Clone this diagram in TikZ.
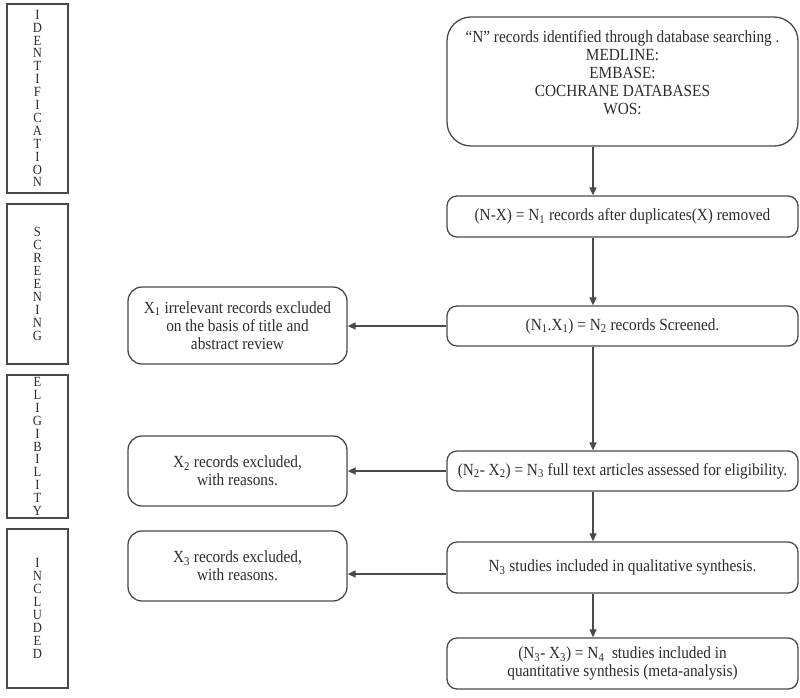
\documentclass[tikz,border=0pt]{standalone}
\usepackage{fontspec}
\setmainfont{Liberation Serif}[FakeStretch=0.9]
\usetikzlibrary{arrows.meta}

\definecolor{boxgray}{HTML}{4A4A4A}
\definecolor{txtgray}{HTML}{2B2B2B}

\tikzset{
  stage/.style={draw=boxgray, line width=1.8pt, minimum width=61pt, inner sep=0pt,
    align=center, text=txtgray, font=\fontsize{14}{12.9}\selectfont},
  flowbox/.style={draw=boxgray, line width=1.3pt, rounded corners=10pt, minimum width=351pt,
    align=center, text=txtgray, font=\fontsize{17}{18}\selectfont},
  exbox/.style={flowbox, rounded corners=14pt, minimum width=219pt},
  arr/.style={draw=boxgray, line width=1.3pt, -{Triangle[length=8pt,width=7pt]}}
}

\begin{document}
\begin{tikzpicture}[x=1pt,y=-1pt]
\useasboundingbox (0,0) rectangle (800,697);

% stage boxes
\node[stage, minimum height=189pt] (idn) at (37.5,98.5) {I\\D\\E\\N\\T\\I\\F\\I\\C\\A\\T\\I\\O\\N};
\node[stage, minimum height=160pt] (scr) at (37.5,284) {S\\C\\R\\E\\E\\N\\I\\N\\G};
\node[stage, minimum height=143pt] (elg) at (37.5,446.5) {E\\L\\I\\G\\I\\B\\I\\L\\I\\T\\Y};
\node[stage, minimum height=159pt] (inc) at (37.5,608.5) {I\\N\\C\\L\\U\\D\\E\\D};

% main column
\node[flowbox, rounded corners=24pt, minimum height=129pt] (rec) at (622.5,81.5)
  {“N” records identified through database searching .\\MEDLINE:\\EMBASE:\\COCHRANE DATABASES\\WOS:\\ \mbox{}};
\node[flowbox, minimum height=41pt] (dup) at (622.5,216.5)
  {(N-X) = N\textsubscript{1} records after duplicates(X) removed};
\node[flowbox, minimum height=40pt] (scn) at (622.5,326)
  {(N\textsubscript{1}.X\textsubscript{1}) = N\textsubscript{2} records Screened.};
\node[flowbox, minimum height=40pt] (elig) at (622.5,471)
  {(N\textsubscript{2}- X\textsubscript{2}) = N\textsubscript{3} full text articles assessed for eligibility.};
\node[flowbox, minimum height=51pt] (qual) at (622.5,567.5)
  {N\textsubscript{3} studies included in qualitative synthesis.};
\node[flowbox, minimum height=51pt] (quant) at (622.5,663.5)
  {(N\textsubscript{3}- X\textsubscript{3}) = N\textsubscript{4}\ \ studies included in\\quantitative synthesis (meta-analysis)};

% excluded boxes
\node[exbox, minimum height=77pt] (ex1) at (237.5,325.5)
  {X\textsubscript{1} irrelevant records excluded\\on the basis of title and\\abstract review};
\node[exbox, minimum height=70pt] (ex2) at (237.5,471)
  {X\textsubscript{2} records excluded,\\with reasons.};
\node[exbox, minimum height=70pt] (ex3) at (237.5,566)
  {X\textsubscript{3} records excluded,\\with reasons.};

\coordinate (ax) at (593,0);

\draw[arr] (rec.south -| ax) -- (dup.north -| ax);
\draw[arr] (dup.south -| ax) -- (scn.north -| ax);
\draw[arr] (scn.south -| ax) -- (elig.north -| ax);
\draw[arr] (elig.south -| ax) -- (qual.north -| ax);
\draw[arr] (qual.south -| ax) -- (quant.north -| ax);

\draw[arr] (scn.west) -- (scn.west -| ex1.east);
\draw[arr] (elig.west) -- (elig.west -| ex2.east);
\draw[arr] ([yshift=-6.5pt]qual.west) -- ([yshift=-6.5pt]qual.west -| ex3.east);
\end{tikzpicture}
\end{document}
